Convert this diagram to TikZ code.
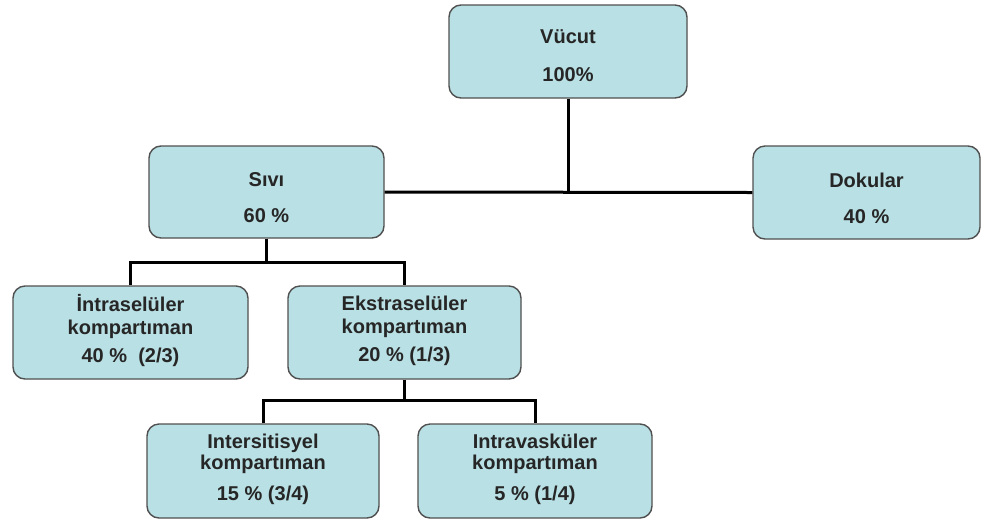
\documentclass[tikz,border=0pt]{standalone}
\usepackage{fontspec}
\setmainfont{Liberation Sans}
\definecolor{boxfill}{RGB}{185,224,228}
\definecolor{boxline}{RGB}{80,80,80}
\begin{document}
\begin{tikzpicture}[x=1pt,y=-1pt,
  box/.style={draw=boxline, line width=1.4pt, fill=boxfill, rounded corners=12pt,
    inner sep=0pt},
  txt/.style={align=center, inner sep=0pt, text=black!85,
    font=\fontsize{20}{24}\selectfont\bfseries},
  link/.style={line width=3pt, black}]
\path[use as bounding box, fill=white] (0,0) rectangle (984,523);
\node[box, minimum width=238pt, minimum height=93pt] (vucut) at (568,51.5) {};
\node[box, minimum width=235pt, minimum height=92pt] (sivi) at (266.5,192) {};
\node[box, minimum width=227pt, minimum height=93pt] (dokular) at (866.5,192.5) {};
\node[box, minimum width=235pt, minimum height=93pt] (intra) at (130.5,332.5) {};
\node[box, minimum width=233pt, minimum height=93pt] (ekstra) at (404.5,332.5) {};
\node[box, minimum width=232pt, minimum height=94pt] (inter) at (263,471) {};
\node[box, minimum width=234pt, minimum height=94pt] (intrav) at (535,471) {};
\node[txt, yshift=-4.5pt] (tvucut) at (vucut.center) {Vücut\\[14pt]100\%};
\node[txt, yshift=-6pt] (tsivi) at (sivi.center) {Sıvı\\[12pt]60 \%};
\node[txt, yshift=-6pt] (tdokular) at (dokular.center) {Dokular\\[12pt]40 \%};
\node[txt, yshift=2pt] (tintra) at (intra.center) {İntraselüler\\[-1pt]kompartıman\\[4pt]40 \%\ \ (2/3)};
\node[txt, yshift=2pt] (tekstra) at (ekstra.center) {Ekstraselüler\\[-1pt]kompartıman\\[4pt]20 \% (1/3)};
\node[txt, yshift=2pt] (tinter) at (inter.center) {Intersitisyel\\[-3pt]kompartıman\\[7pt]15 \% (3/4)};
\node[txt, yshift=2pt] (tintrav) at (intrav.center) {Intravasküler\\[-3pt]kompartıman\\[7pt]5 \% (1/4)};
\coordinate (j0) at (568,191);
\coordinate (j1) at (266.5,262);
\coordinate (j2) at (404.5,400);
\draw[link] (vucut.south) -- (j0);
\draw[link] (sivi.east) -- (dokular.west);
\draw[link] (sivi.south) -- (j1);
\draw[link] (intra.north) |- (j1) -| (ekstra.north);
\draw[link] (ekstra.south) -- (j2);
\draw[link] (inter.north) |- (j2) -| (intrav.north);
\end{tikzpicture}
\end{document}
